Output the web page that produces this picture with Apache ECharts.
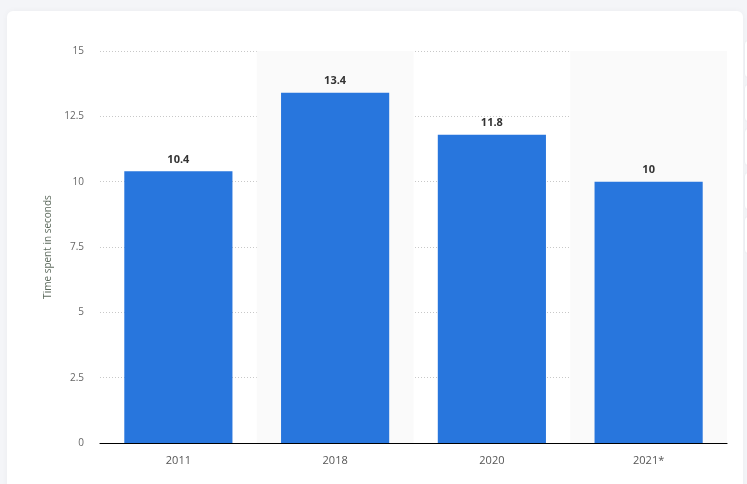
<!DOCTYPE html>
<html>
<head>
<meta charset="utf-8">
<script src="https://cdn.jsdelivr.net/npm/echarts@6/dist/echarts.min.js"></script>
<style>
html,body{margin:0;padding:0;background:#f4f5f8;width:747px;height:484px;overflow:hidden;}
#card{position:absolute;left:7px;top:11px;width:736px;height:490px;background:#fff;border-radius:6px;box-shadow:0 0 6px rgba(0,0,0,0.04);}
#side{position:absolute;left:744px;top:40px;width:10px;height:210px;}
#side div{height:36px;margin-bottom:6px;background:#fff;border-radius:4px;border:1px solid #eceef2;}
#chart{position:absolute;left:0;top:0;width:747px;height:484px;}
</style>
</head>
<body>
<div id="card"></div>
<div id="side"><div></div><div></div><div></div><div></div><div></div></div>
<div id="chart"></div>
<script>
var categories = ['2011', '2018', '2020', '2021*'];
var values = [10.4, 13.4, 11.8, 10];
var yTicks = [0, 2.5, 5, 7.5, 10, 12.5, 15];
var yTitle = 'Time spent in seconds';

var chart = echarts.init(document.getElementById('chart'), null, {renderer: 'canvas'});
chart.setOption({
  backgroundColor: 'transparent',
  animation: false,
  textStyle: {fontFamily: 'Open Sans, sans-serif'},
  grid: {left: 100, right: 20, top: 51, bottom: 41, containLabel: false},
  xAxis: {
    type: 'category',
    data: categories,
    axisLine: {lineStyle: {color: '#000', width: 1.2}},
    axisTick: {show: false},
    axisLabel: {color: '#555', fontSize: 11, margin: 12},
    splitArea: {show: true, areaStyle: {color: ['rgba(255,255,255,0)', '#fafafa']}}
  },
  yAxis: {
    type: 'value',
    min: yTicks[0],
    max: yTicks[yTicks.length - 1],
    interval: 2.5,
    name: yTitle,
    nameLocation: 'middle',
    nameGap: 46,
    nameTextStyle: {color: '#5e6b5e', fontSize: 10},
    axisLine: {show: false},
    axisTick: {show: false},
    axisLabel: {color: '#666', fontSize: 10, margin: 16},
    splitLine: {lineStyle: {color: '#c8c8c8', type: [1, 2], width: 1}}
  },
  series: [{
    type: 'bar',
    data: values,
    barWidth: '69%',
    itemStyle: {color: '#2876dd'},
    label: {show: true, position: 'top', color: '#333', fontWeight: 'bold', fontSize: 11, distance: 6}
  }]
});
</script>
</body>
</html>
